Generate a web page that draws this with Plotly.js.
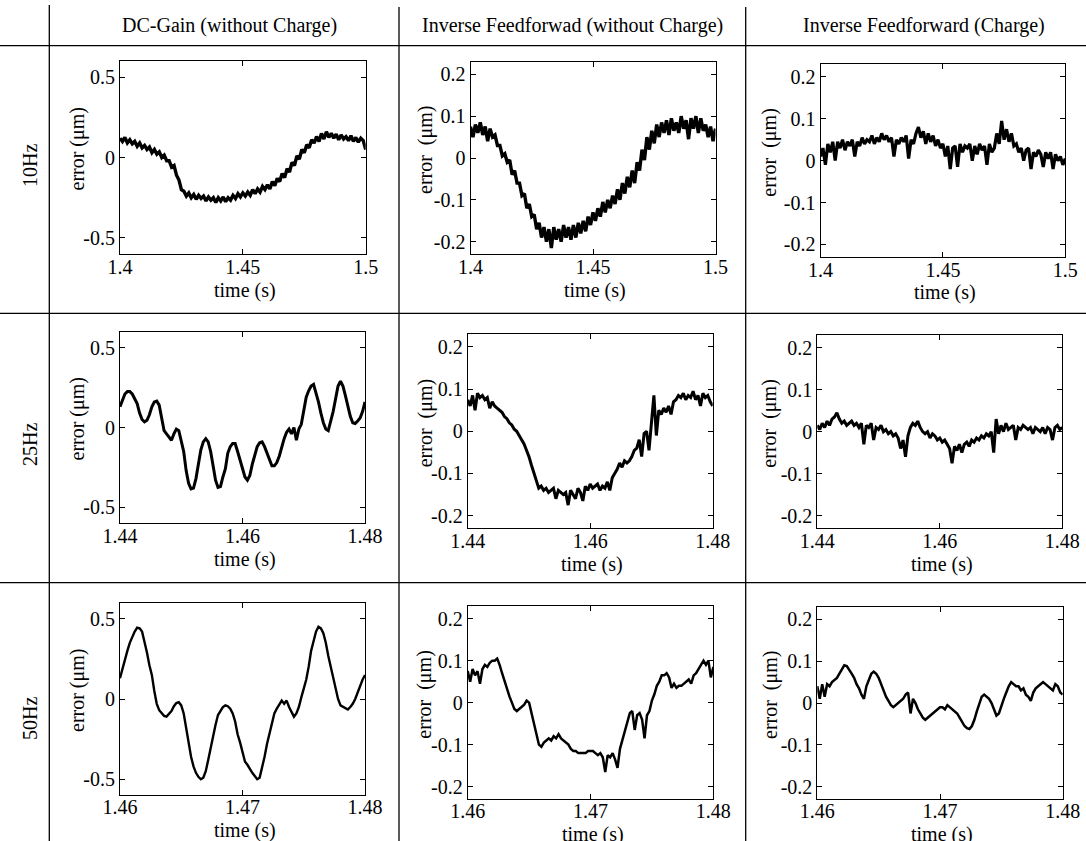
<!DOCTYPE html>
<html><head><meta charset="utf-8">
<script src="https://cdn.plot.ly/plotly-3.0.1.min.js"></script>
<style>html,body{margin:0;padding:0;background:#fff}</style>
</head><body><div id="chart" style="width:1086px;height:841px"></div>
<script>
// ---------- text ----------
const columnHeaders = ["DC-Gain (without Charge)", "Inverse Feedforwad (without Charge)", "Inverse Feedforward (Charge)"];
const rowLabels = ["10Hz", "25Hz", "50Hz"];
const xTitle = "time (s)";
const yTitles = ["error (μm)", "error\u00a0 (μm)", "error\u00a0 (μm)"];

// ---------- ticks ----------
const xTicks10 = [1.4, 1.45, 1.5];   const xTickText10 = ["1.4", "1.45", "1.5"];
const xTicks25 = [1.44, 1.46, 1.48]; const xTickText25 = ["1.44", "1.46", "1.48"];
const xTicks50 = [1.46, 1.47, 1.48]; const xTickText50 = ["1.46", "1.47", "1.48"];
const yTicksDC = [-0.5, 0, 0.5];     const yTickTextDC = ["-0.5", "0", "0.5"];
const yTicksFF = [-0.2, -0.1, 0, 0.1, 0.2]; const yTickTextFF = ["-0.2", "-0.1", "0", "0.1", "0.2"];

// ---------- time sampling (start, step) ----------
const t0_10 = 1.4,  dt_10 = 0.001;
const t0_25 = 1.44, dt_25 = 0.0004;
const t0_50 = 1.46, dt_50 = 0.0002;

// ---------- error series (μm) ----------
const err10_dc = [0.12, 0.10, 0.125, 0.09, 0.11, 0.085, 0.10, 0.07, 0.09, 0.06,
 0.075, 0.05, 0.065, 0.03, 0.05, 0.02, 0.035, 0.0, 0.015, -0.02,
 -0.02, -0.06, -0.05, -0.11, -0.14, -0.2, -0.21, -0.24, -0.22, -0.25,
 -0.23, -0.26, -0.235, -0.255, -0.24, -0.27, -0.245, -0.265, -0.25, -0.28,
 -0.25, -0.27, -0.245, -0.275, -0.25, -0.265, -0.235, -0.255, -0.225, -0.245,
 -0.22, -0.24, -0.215, -0.235, -0.2, -0.225, -0.195, -0.215, -0.18, -0.2,
 -0.17, -0.195, -0.15, -0.175, -0.13, -0.15, -0.1, -0.125, -0.07, -0.09,
 -0.03, -0.05, 0.01, -0.01, 0.05, 0.03, 0.08, 0.06, 0.11, 0.09,
 0.13, 0.10, 0.15, 0.115, 0.16, 0.125, 0.15, 0.12, 0.145, 0.11,
 0.14, 0.115, 0.13, 0.105, 0.135, 0.1, 0.125, 0.095, 0.12, 0.105,
 0.05];
const err10_ff = [0.075, 0.05, 0.08, 0.06, 0.085, 0.055, 0.075, 0.04, 0.07, 0.05,
 0.055, 0.03, 0.03, 0.005, 0.01, -0.01, -0.005, -0.04, -0.03, -0.06,
 -0.06, -0.09, -0.085, -0.12, -0.11, -0.14, -0.135, -0.17, -0.155, -0.19,
 -0.165, -0.2, -0.17, -0.215, -0.165, -0.195, -0.17, -0.2, -0.16, -0.19,
 -0.165, -0.195, -0.16, -0.19, -0.155, -0.18, -0.15, -0.175, -0.14, -0.16,
 -0.13, -0.15, -0.12, -0.14, -0.105, -0.13, -0.1, -0.12, -0.09, -0.11,
 -0.075, -0.1, -0.06, -0.085, -0.045, -0.07, -0.03, -0.06, -0.01, -0.03,
 0.02, -0.005, 0.05, 0.02, 0.065, 0.035, 0.08, 0.05, 0.085, 0.06,
 0.09, 0.055, 0.095, 0.065, 0.085, 0.06, 0.1, 0.07, 0.09, 0.045,
 0.095, 0.07, 0.1, 0.06, 0.095, 0.065, 0.08, 0.05, 0.075, 0.04,
 0.07];
const err10_ffc = [0.01, 0.03, -0.01, 0.04, 0.02, 0.045, 0.0, 0.045, 0.03, 0.05,
 0.025, 0.045, 0.035, 0.05, 0.01, 0.045, 0.035, 0.055, 0.04, 0.05,
 0.045, 0.06, 0.04, 0.055, 0.045, 0.065, 0.05, 0.06, 0.045, 0.055,
 0.01, 0.05, 0.04, 0.055, 0.045, 0.06, 0.005, 0.05, 0.04, 0.065,
 0.08, 0.055, 0.07, 0.04, 0.065, 0.045, 0.06, 0.035, 0.05, 0.03,
 0.04, 0.01, 0.035, -0.02, 0.03, 0.035, -0.015, 0.04, 0.02, 0.035,
 0.03, 0.04, 0.0, 0.035, 0.015, 0.04, 0.025, 0.035, -0.01, 0.04,
 0.02, 0.03, 0.065, 0.04, 0.095, 0.05, 0.075, 0.045, 0.065, 0.035,
 0.04, 0.02, 0.03, 0.0, 0.025, 0.03, -0.02, 0.02, 0.01, 0.025,
 0.015, -0.015, 0.02, 0.005, 0.02, -0.02, 0.015, 0.0, 0.01, -0.01,
 0.005];
const err25_dc = [0.13, 0.17, 0.21, 0.225, 0.225, 0.21, 0.18, 0.15, 0.09, 0.05,
 0.035, 0.045, 0.08, 0.13, 0.16, 0.165, 0.14, 0.06, -0.02, -0.04,
 -0.06, -0.08, -0.04, -0.01, -0.02, -0.08, -0.15, -0.27, -0.35, -0.385,
 -0.38, -0.32, -0.22, -0.14, -0.09, -0.07, -0.09, -0.15, -0.24, -0.33,
 -0.375, -0.37, -0.31, -0.26, -0.16, -0.12, -0.10, -0.10, -0.15, -0.2,
 -0.26, -0.31, -0.33, -0.3, -0.23, -0.17, -0.12, -0.095, -0.09, -0.12,
 -0.16, -0.21, -0.24, -0.24, -0.22, -0.18, -0.12, -0.07, -0.03, -0.01,
 -0.04, 0.0, -0.08, -0.01, 0.02, 0.12, 0.19, 0.23, 0.26, 0.27,
 0.22, 0.16, 0.09, 0.03, -0.01, -0.02, 0.04, 0.1, 0.18, 0.26,
 0.29, 0.26, 0.2, 0.13, 0.07, 0.03, 0.025, 0.04, 0.06, 0.1,
 0.16];
const err25_ff = [0.075, 0.06, 0.085, 0.05, 0.09, 0.08, 0.085, 0.075, 0.08, 0.055,
 0.07, 0.06, 0.055, 0.05, 0.045, 0.035, 0.03, 0.02, 0.015, 0.005,
 0.0, -0.01, -0.02, -0.03, -0.045, -0.06, -0.08, -0.1, -0.115, -0.135,
 -0.13, -0.14, -0.135, -0.145, -0.14, -0.135, -0.16, -0.14, -0.145, -0.15,
 -0.145, -0.175, -0.14, -0.15, -0.16, -0.135, -0.145, -0.165, -0.13, -0.14,
 -0.125, -0.135, -0.13, -0.125, -0.14, -0.13, -0.135, -0.12, -0.14, -0.11,
 -0.1, -0.09, -0.075, -0.085, -0.07, -0.075, -0.07, -0.06, -0.045, -0.04,
 -0.02, -0.06, -0.005, 0.0, -0.045, 0.02, 0.085, -0.01, 0.05, 0.04,
 0.055, 0.045, 0.06, 0.04, 0.07, 0.075, 0.085, 0.08, 0.09, 0.075,
 0.085, 0.08, 0.095, 0.075, 0.085, 0.06, 0.09, 0.08, 0.085, 0.07,
 0.06];
const err25_ffc = [0.015, 0.005, 0.02, 0.01, 0.025, 0.015, 0.03, 0.035, 0.045, 0.03,
 0.02, 0.025, 0.015, 0.02, 0.025, 0.015, 0.02, 0.01, 0.02, -0.03,
 0.015, 0.01, 0.02, -0.02, 0.01, 0.005, 0.015, 0.0, 0.005, -0.005,
 0.0, -0.01, -0.005, -0.015, -0.04, -0.02, -0.06, -0.01, 0.01, 0.02,
 0.015, 0.025, 0.01, 0.0, -0.005, 0.0, -0.015, -0.005, -0.01, -0.02,
 -0.015, -0.025, -0.02, -0.03, -0.04, -0.075, -0.035, -0.045, -0.03, -0.05,
 -0.03, -0.025, -0.035, -0.02, -0.025, -0.015, -0.02, -0.01, -0.015, -0.005,
 -0.01, 0.0, -0.05, 0.03, -0.005, 0.015, 0.0, 0.02, 0.005, 0.01,
 0.015, -0.02, 0.01, 0.005, 0.015, 0.01, 0.005, 0.01, -0.005, 0.01,
 0.005, 0.0, 0.01, -0.005, 0.01, 0.005, -0.02, 0.01, 0.015, 0.005,
 0.01];
const err50_dc = [0.13, 0.19, 0.25, 0.3, 0.35, 0.39, 0.42, 0.445, 0.44, 0.42,
 0.36, 0.29, 0.21, 0.15, 0.05, -0.03, -0.07, -0.09, -0.105, -0.11,
 -0.095, -0.075, -0.045, -0.025, -0.02, -0.04, -0.09, -0.19, -0.26, -0.36,
 -0.42, -0.46, -0.485, -0.5, -0.49, -0.45, -0.38, -0.3, -0.23, -0.16,
 -0.1, -0.07, -0.05, -0.04, -0.045, -0.06, -0.09, -0.14, -0.22, -0.27,
 -0.33, -0.39, -0.41, -0.44, -0.46, -0.48, -0.5, -0.49, -0.43, -0.36,
 -0.28, -0.22, -0.16, -0.09, -0.06, -0.03, -0.01, -0.03, -0.01, -0.05,
 -0.08, -0.11, -0.09, -0.05, 0.01, 0.07, 0.12, 0.2, 0.3, 0.36,
 0.42, 0.45, 0.44, 0.41, 0.35, 0.27, 0.2, 0.12, 0.06, 0.0,
 -0.04, -0.05, -0.06, -0.065, -0.05, -0.03, 0.0, 0.04, 0.09, 0.12,
 0.15];
const err50_ff = [0.075, 0.05, 0.08, 0.065, 0.075, 0.045, 0.08, 0.09, 0.085, 0.095,
 0.1, 0.1, 0.105, 0.09, 0.07, 0.05, 0.035, 0.015, 0.0, -0.015,
 -0.02, -0.015, -0.01, -0.005, 0.005, 0.0, -0.025, -0.05, -0.075, -0.1,
 -0.105, -0.095, -0.09, -0.085, -0.09, -0.08, -0.085, -0.075, -0.085, -0.09,
 -0.095, -0.1, -0.11, -0.115, -0.115, -0.12, -0.12, -0.12, -0.12, -0.115,
 -0.115, -0.115, -0.12, -0.125, -0.12, -0.13, -0.165, -0.125, -0.13, -0.12,
 -0.135, -0.155, -0.11, -0.09, -0.07, -0.045, -0.025, -0.02, -0.065, -0.03,
 -0.025, -0.04, -0.085, -0.03, -0.02, 0.005, 0.02, 0.04, 0.05, 0.065,
 0.065, 0.07, 0.06, 0.035, 0.045, 0.035, 0.04, 0.04, 0.045, 0.05,
 0.055, 0.045, 0.065, 0.07, 0.08, 0.09, 0.1, 0.09, 0.1, 0.06,
 0.085];
const err50_ffc = [0.04, 0.01, 0.045, 0.015, 0.045, 0.04, 0.05, 0.055, 0.06, 0.07,
 0.08, 0.09, 0.088, 0.08, 0.07, 0.06, 0.045, 0.035, 0.02, 0.01,
 0.04, 0.055, 0.07, 0.075, 0.07, 0.06, 0.045, 0.03, 0.015, 0.005,
 -0.005, -0.01, -0.005, 0.0, 0.005, 0.01, 0.02, 0.025, -0.025, 0.01,
 0.0, -0.015, -0.025, -0.035, -0.04, -0.035, -0.03, -0.025, -0.02, -0.015,
 -0.01, -0.01, -0.015, -0.005, -0.01, -0.015, -0.02, -0.025, -0.035, -0.045,
 -0.055, -0.06, -0.062, -0.055, -0.04, -0.02, 0.0, 0.015, 0.02, 0.015,
 0.01, 0.0, -0.015, -0.03, -0.025, -0.005, 0.01, 0.025, 0.04, 0.05,
 0.045, 0.04, 0.04, 0.03, 0.035, 0.02, 0.015, 0.005, 0.025, 0.035,
 0.04, 0.045, 0.05, 0.045, 0.04, 0.035, 0.03, 0.045, 0.04, 0.025,
 0.02];

// ---------- layout helpers (pixel boxes: left, right, top, bottom) ----------
const W = 1086, H = 841;
const px = v => v / W, py = v => 1 - v / H;

const panels = [
  {y: err10_dc,  x0: t0_10, dx: dt_10, xr: [1.4, 1.5],   xt: xTicks10, xtt: xTickText10, yr: [-0.6, 0.6],   yt: yTicksDC, ytt: yTickTextDC, box: [120, 365.7, 61, 254],     lw: 3.4, col: 0, row: 0},
  {y: err10_ff,  x0: t0_10, dx: dt_10, xr: [1.4, 1.5],   xt: xTicks10, xtt: xTickText10, yr: [-0.23, 0.23], yt: yTicksFF, ytt: yTickTextFF, box: [470.5, 715.5, 61.7, 254.3], lw: 3.4, col: 1, row: 0},
  {y: err10_ffc, x0: t0_10, dx: dt_10, xr: [1.4, 1.5],   xt: xTicks10, xtt: xTickText10, yr: [-0.23, 0.23], yt: yTicksFF, ytt: yTickTextFF, box: [820.5, 1065.3, 64.3, 257], lw: 3.2, col: 2, row: 0},
  {y: err25_dc,  x0: t0_25, dx: dt_25, xr: [1.44, 1.48], xt: xTicks25, xtt: xTickText25, yr: [-0.6, 0.6],   yt: yTicksDC, ytt: yTickTextDC, box: [120, 365, 331.7, 523.3],   lw: 3.0, col: 0, row: 1},
  {y: err25_ff,  x0: t0_25, dx: dt_25, xr: [1.44, 1.48], xt: xTicks25, xtt: xTickText25, yr: [-0.23, 0.23], yt: yTicksFF, ytt: yTickTextFF, box: [467.7, 712.7, 334.3, 528.3], lw: 3.0, col: 1, row: 1},
  {y: err25_ffc, x0: t0_25, dx: dt_25, xr: [1.44, 1.48], xt: xTicks25, xtt: xTickText25, yr: [-0.23, 0.23], yt: yTicksFF, ytt: yTickTextFF, box: [817.3, 1062.3, 335, 528.3], lw: 3.0, col: 2, row: 1},
  {y: err50_dc,  x0: t0_50, dx: dt_50, xr: [1.46, 1.48], xt: xTicks50, xtt: xTickText50, yr: [-0.6, 0.6],   yt: yTicksDC, ytt: yTickTextDC, box: [120, 365, 602.7, 795.3],   lw: 2.4, col: 0, row: 2},
  {y: err50_ff,  x0: t0_50, dx: dt_50, xr: [1.46, 1.48], xt: xTicks50, xtt: xTickText50, yr: [-0.23, 0.23], yt: yTicksFF, ytt: yTickTextFF, box: [467.7, 713.3, 606, 799.3],   lw: 2.5, col: 1, row: 2},
  {y: err50_ffc, x0: t0_50, dx: dt_50, xr: [1.46, 1.48], xt: xTicks50, xtt: xTickText50, yr: [-0.23, 0.23], yt: yTicksFF, ytt: yTickTextFF, box: [817.3, 1062.7, 606.7, 799.3], lw: 2.5, col: 2, row: 2}
];
const yTitleX = [77, 425, 770];
const xTitleGap = [36, 36, 35];
const FONT = "Liberation Serif";

const traces = [];
const layout = {
  width: W, height: H, margin: {l: 0, r: 0, t: 0, b: 0},
  paper_bgcolor: "#fff", plot_bgcolor: "#fff", showlegend: false,
  font: {family: FONT, size: 19, color: "#000"},
  annotations: [], shapes: []
};

panels.forEach((p, i) => {
  const n = i === 0 ? "" : String(i + 1);
  traces.push({type: "scatter", mode: "lines", y: p.y, x0: p.x0, dx: p.dx,
    xaxis: "x" + n, yaxis: "y" + n, line: {color: "#000", width: p.lw}, hoverinfo: "skip"});
  const common = {showgrid: false, zeroline: false, showline: true, linecolor: "#000", linewidth: 1,
    mirror: "ticks", ticks: "inside", ticklen: 5, tickwidth: 1, tickcolor: "#000",
    tickmode: "array", tickfont: {family: FONT, size: 20, color: "#000"}, fixedrange: true};
  layout["xaxis" + n] = Object.assign({}, common, {domain: [px(p.box[0]), px(p.box[1])], range: p.xr,
    tickvals: p.xt, ticktext: p.xtt, anchor: "y" + n, ticklabelstandoff: p.row === 2 ? -6 : -5});
  layout["yaxis" + n] = Object.assign({}, common, {domain: [py(p.box[3]), py(p.box[2])], range: p.yr,
    tickvals: p.yt, ticktext: p.ytt, anchor: "x" + n});
  // axis titles
  layout.annotations.push({text: xTitle, xref: "paper", yref: "paper", x: px((p.box[0] + p.box[1]) / 2 + 2),
    y: py(p.box[3] + xTitleGap[p.row]), xanchor: "center", yanchor: "middle", showarrow: false, font: {family: FONT, size: 20, color: "#000"}});
  layout.annotations.push({text: yTitles[p.col], xref: "paper", yref: "paper", x: px(yTitleX[p.col]),
    y: py((p.box[2] + p.box[3]) / 2 - 8), xanchor: "center", yanchor: "middle", textangle: -90, showarrow: false,
    font: {family: FONT, size: 20, color: "#000"}});
});

// column headers and row labels
const headerX = [229, 572, 924];
columnHeaders.forEach((h, c) => layout.annotations.push({text: h, xref: "paper", yref: "paper",
  x: px(headerX[c]), y: py(26), xanchor: "center", yanchor: "middle", showarrow: false,
  font: {family: FONT, size: 20, color: "#000"}}));
const rowLabelY = [166, 445, 719];
rowLabels.forEach((r, k) => layout.annotations.push({text: r, xref: "paper", yref: "paper",
  x: px(30), y: py(rowLabelY[k]), xanchor: "center", yanchor: "middle", textangle: -90, showarrow: false,
  font: {family: FONT, size: 20, color: "#000"}}));

// table rules
const vLines = [[49.3, 5], [399, 7], [745.7, 7]];
vLines.forEach(([x, top]) => layout.shapes.push({type: "line", xref: "paper", yref: "paper",
  x0: px(x), x1: px(x), y0: py(top), y1: 0, line: {color: "#000", width: 1.3}}));
[45.7, 313.3, 582.7].forEach(y => layout.shapes.push({type: "line", xref: "paper", yref: "paper",
  x0: 0, x1: 1, y0: py(y), y1: py(y), line: {color: "#000", width: 1.3}}));

Plotly.newPlot("chart", traces, layout, {displayModeBar: false, staticPlot: true});
</script>
</body></html>
